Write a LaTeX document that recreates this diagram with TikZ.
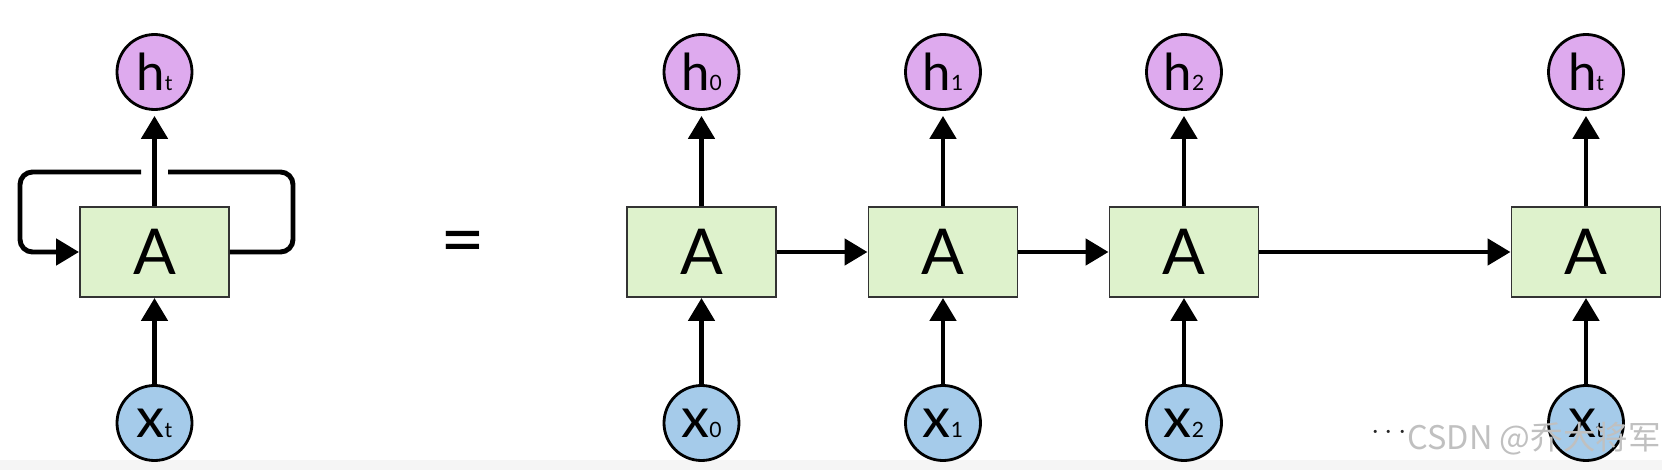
\documentclass[tikz,border=0pt]{standalone}
\usepackage{fontspec}
\setmainfont{Lato}
\newfontfamily\cjk{Noto Sans CJK SC}
\usetikzlibrary{arrows.meta}

\definecolor{cellgreen}{RGB}{222,242,204}
\definecolor{outpurple}{RGB}{222,170,238}
\definecolor{inblue}{RGB}{165,203,234}
\definecolor{markgray}{RGB}{192,192,192}

% h/x with a small index on the baseline
\newcommand{\vlabel}[3]{{\fontsize{#3}{#3}\selectfont #1}{\fontsize{12}{12}\selectfont #2}}

\begin{document}
\begin{tikzpicture}[
  cell/.style={draw=black!80, line width=1.1pt, fill=cellgreen,
    minimum width=2.98cm, minimum height=1.8cm, inner sep=0pt,
    font=\fontsize{36}{36}\selectfont},
  outnode/.style={circle, draw=black, line width=1.6pt, fill=outpurple,
    minimum size=1.5cm, inner sep=0pt},
  innode/.style={circle, draw=black, line width=1.6pt, fill=inblue,
    minimum size=1.5cm, inner sep=0pt},
  link/.style={line width=2.8pt, -{Triangle[length=0.46cm,width=0.52cm]}},
  plain/.style={line width=2.8pt}
]
\useasboundingbox (0,0) rectangle (33.24,9.4);
\fill [black!4] (0,0) rectangle (33.24,0.2);

% rolled network
\node [cell] (A) at (3.09,4.36) {A};
\node [outnode] (ht) at (3.09,7.96) {\vlabel{h}{t}{29}};
\node [innode] (xt) at (3.09,0.94) {\vlabel{x}{t}{32}};
\draw [link] (xt) -- (A);
\draw [link, shorten >=0.1cm] (A) -- (ht);
\draw [plain, rounded corners=0.25cm] (A.east) -- (5.86,4.36) -- (5.86,5.96) -- (3.36,5.96);
\draw [link, rounded corners=0.25cm] (2.82,5.96) -- (0.4,5.96) -- (0.4,4.36) -- (A.west);

\node [font=\fontsize{44}{44}\selectfont] (eq) at (9.26,4.42) {=};

% unrolled network
\foreach \i/\x/\t in {0/14.03/0, 1/18.86/1, 2/23.68/2, 3/31.72/t} {
  \node [cell] (A\i) at (\x,4.36) {A};
  \node [outnode] (h\i) at (\x,7.96) {\vlabel{h}{\t}{29}};
  \node [innode] (x\i) at (\x,0.94) {\vlabel{x}{\t}{32}};
  \draw [link] (x\i) -- (A\i);
  \draw [link, shorten >=0.1cm] (A\i) -- (h\i);
}
\draw [link] (A0) -- (A1);
\draw [link] (A1) -- (A2);
\draw [link] (A2) -- (A3);

\node [font=\fontsize{17}{17}\selectfont, text=black!85] (dots) at (27.78,0.74) {$\cdots$};
\node [anchor=west, inner sep=0pt, text=markgray, font=\cjk\fontsize{18.5}{18.5}\selectfont]
  (mark) at (28.14,0.62) {CSDN @乔大将军};
\end{tikzpicture}
\end{document}
